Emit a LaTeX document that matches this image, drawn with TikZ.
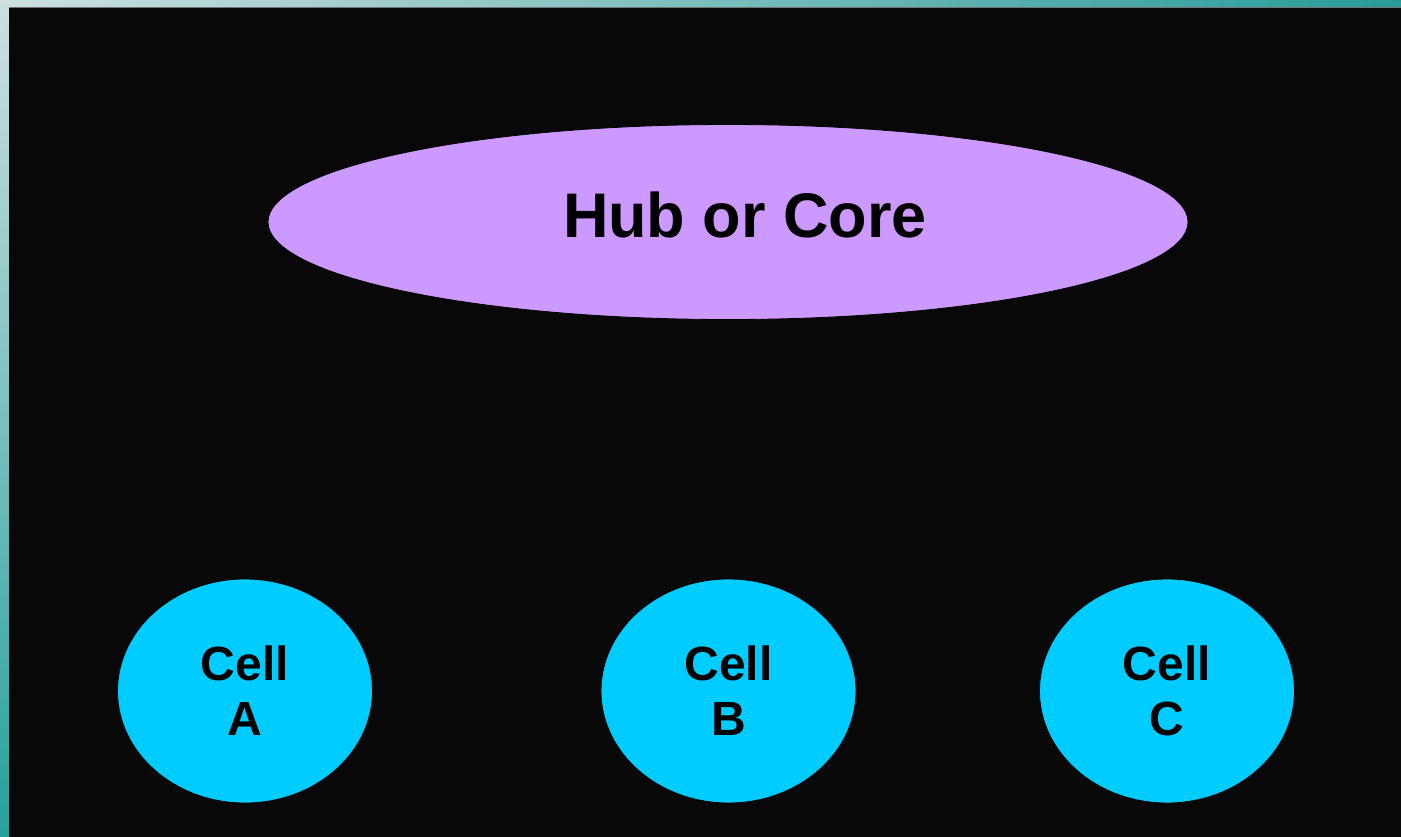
\documentclass[tikz,border=0pt]{standalone}
\usepackage{fontspec}
\setmainfont{Liberation Sans}
\usetikzlibrary{shapes.geometric,shadings}
\definecolor{frameA}{RGB}{206,224,224}
\definecolor{frameB}{RGB}{40,156,152}
\definecolor{frameC}{RGB}{38,160,158}
\definecolor{panel}{RGB}{8,8,8}
\definecolor{hubfill}{RGB}{204,153,255}
\definecolor{cellfill}{RGB}{0,204,255}
\tikzset{
  hubnode/.style={ellipse, fill=hubfill, draw=black, line width=0.8pt, inner sep=0pt,
    minimum width=920pt, minimum height=195pt},
  hubtext/.style={inner sep=0pt, anchor=base,
    font=\fontsize{63}{70}\selectfont\bfseries, text=black},
  cellnode/.style={ellipse, fill=cellfill, draw=black, line width=0.8pt, inner sep=0pt,
    minimum width=255pt, minimum height=224pt, align=center,
    font=\fontsize{48}{55}\selectfont\bfseries, text=black},
}
\begin{document}
\begin{tikzpicture}[x=1pt,y=-1pt]
  \useasboundingbox (0,0) rectangle (1401,836);
  % gradient frame behind the dark panel
  \shade[upper left=frameA, upper right=frameB, lower left=frameC, lower right=frameB]
    (0,0) rectangle (1401,836);
  \fill[panel] (9,7.5) rectangle (1402,838);
  \draw[black!55, line width=0.8pt] (9,7.5) -- (1401,7.5);
  % hub ellipse and its title
  \node[hubnode] (hub) at (728,222) {};
  \node[hubtext] (hubtitle) at (745,237) {Hub or Core};
  % cells
  \node[cellnode] (cellA) at (245,691) {Cell\\A};
  \node[cellnode] (cellB) at (728.5,691) {Cell\\B};
  \node[cellnode] (cellC) at (1167,691) {Cell\\C};
\end{tikzpicture}
\end{document}
